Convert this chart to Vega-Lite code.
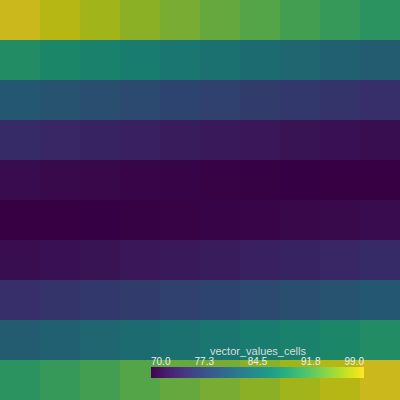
{
  "$schema": "https://vega.github.io/schema/vega-lite/v6.json",
  "width": 400,
  "height": 400,
  "autosize": {"type": "fit", "contains": "padding"},
  "padding": 0,
  "background": "#000000",
  "config": {"view": {"stroke": null}},
  "layer": [
    {
      "data": {"values": [
        {"row":0,"col":0,"v":99.00},{"row":0,"col":1,"v":97.84},{"row":0,"col":2,"v":96.70},{"row":0,"col":3,"v":95.59},{"row":0,"col":4,"v":94.50},{"row":0,"col":5,"v":93.44},{"row":0,"col":6,"v":92.40},{"row":0,"col":7,"v":91.38},{"row":0,"col":8,"v":90.38},{"row":0,"col":9,"v":89.41},
        {"row":1,"col":0,"v":88.47},{"row":1,"col":1,"v":87.54},{"row":1,"col":2,"v":86.64},{"row":1,"col":3,"v":85.77},{"row":1,"col":4,"v":84.92},{"row":1,"col":5,"v":84.09},{"row":1,"col":6,"v":83.28},{"row":1,"col":7,"v":82.50},{"row":1,"col":8,"v":81.74},{"row":1,"col":9,"v":81.01},
        {"row":2,"col":0,"v":80.30},{"row":2,"col":1,"v":79.61},{"row":2,"col":2,"v":78.95},{"row":2,"col":3,"v":78.31},{"row":2,"col":4,"v":77.70},{"row":2,"col":5,"v":77.10},{"row":2,"col":6,"v":76.54},{"row":2,"col":7,"v":75.99},{"row":2,"col":8,"v":75.47},{"row":2,"col":9,"v":74.97},
        {"row":3,"col":0,"v":74.50},{"row":3,"col":1,"v":74.05},{"row":3,"col":2,"v":73.62},{"row":3,"col":3,"v":73.22},{"row":3,"col":4,"v":72.84},{"row":3,"col":5,"v":72.49},{"row":3,"col":6,"v":72.16},{"row":3,"col":7,"v":71.85},{"row":3,"col":8,"v":71.57},{"row":3,"col":9,"v":71.30},
        {"row":4,"col":0,"v":71.07},{"row":4,"col":1,"v":70.86},{"row":4,"col":2,"v":70.67},{"row":4,"col":3,"v":70.50},{"row":4,"col":4,"v":70.36},{"row":4,"col":5,"v":70.24},{"row":4,"col":6,"v":70.14},{"row":4,"col":7,"v":70.07},{"row":4,"col":8,"v":70.03},{"row":4,"col":9,"v":70.00},
        {"row":5,"col":0,"v":70.00},{"row":5,"col":1,"v":70.03},{"row":5,"col":2,"v":70.07},{"row":5,"col":3,"v":70.14},{"row":5,"col":4,"v":70.24},{"row":5,"col":5,"v":70.36},{"row":5,"col":6,"v":70.50},{"row":5,"col":7,"v":70.67},{"row":5,"col":8,"v":70.86},{"row":5,"col":9,"v":71.07},
        {"row":6,"col":0,"v":71.30},{"row":6,"col":1,"v":71.57},{"row":6,"col":2,"v":71.85},{"row":6,"col":3,"v":72.16},{"row":6,"col":4,"v":72.49},{"row":6,"col":5,"v":72.84},{"row":6,"col":6,"v":73.22},{"row":6,"col":7,"v":73.62},{"row":6,"col":8,"v":74.05},{"row":6,"col":9,"v":74.50},
        {"row":7,"col":0,"v":74.97},{"row":7,"col":1,"v":75.47},{"row":7,"col":2,"v":75.99},{"row":7,"col":3,"v":76.54},{"row":7,"col":4,"v":77.10},{"row":7,"col":5,"v":77.70},{"row":7,"col":6,"v":78.31},{"row":7,"col":7,"v":78.95},{"row":7,"col":8,"v":79.61},{"row":7,"col":9,"v":80.30},
        {"row":8,"col":0,"v":81.01},{"row":8,"col":1,"v":81.74},{"row":8,"col":2,"v":82.50},{"row":8,"col":3,"v":83.28},{"row":8,"col":4,"v":84.09},{"row":8,"col":5,"v":84.92},{"row":8,"col":6,"v":85.77},{"row":8,"col":7,"v":86.64},{"row":8,"col":8,"v":87.54},{"row":8,"col":9,"v":88.47},
        {"row":9,"col":0,"v":89.41},{"row":9,"col":1,"v":90.38},{"row":9,"col":2,"v":91.38},{"row":9,"col":3,"v":92.40},{"row":9,"col":4,"v":93.44},{"row":9,"col":5,"v":94.50},{"row":9,"col":6,"v":95.59},{"row":9,"col":7,"v":96.70},{"row":9,"col":8,"v":97.84},{"row":9,"col":9,"v":99.00}
      ]},
      "mark": {"type": "rect"},
      "encoding": {
        "x": {"field": "col", "type": "ordinal", "axis": null, "scale": {"paddingInner": 0, "paddingOuter": 0}},
        "y": {"field": "row", "type": "ordinal", "axis": null, "scale": {"paddingInner": 0, "paddingOuter": 0}},
        "color": {
          "field": "v", "type": "quantitative",
          "scale": {"scheme": "viridis", "domain": [70, 99]},
          "legend": {
            "title": "vector_values_cells",
            "orient": "none",
            "direction": "horizontal",
            "legendX": 151,
            "legendY": 346,
            "gradientLength": 213,
            "gradientThickness": 11,
            "gradientStrokeWidth": 0,
            "values": [70, 77.25, 84.5, 91.75, 99],
            "format": ".1f",
            "labelOffset": -21,
            "labelBaseline": "top",
            "labelFlush": false,
            "labelOverlap": false,
            "labelColor": "#eeeeee",
            "labelFontSize": 10,
            "labelFont": "Liberation Sans",
            "titleColor": "#dddddd",
            "titleFontSize": 11,
            "titleFontWeight": "normal",
            "titleFont": "Liberation Sans",
            "titleAnchor": "middle",
            "titleOrient": "top",
            "titlePadding": 10
          }
        }
      }
    },
    {
      "data": {"values": [{}]},
      "mark": {"type": "rect", "color": "#000000", "opacity": 0.2},
      "encoding": {}
    }
  ]
}
